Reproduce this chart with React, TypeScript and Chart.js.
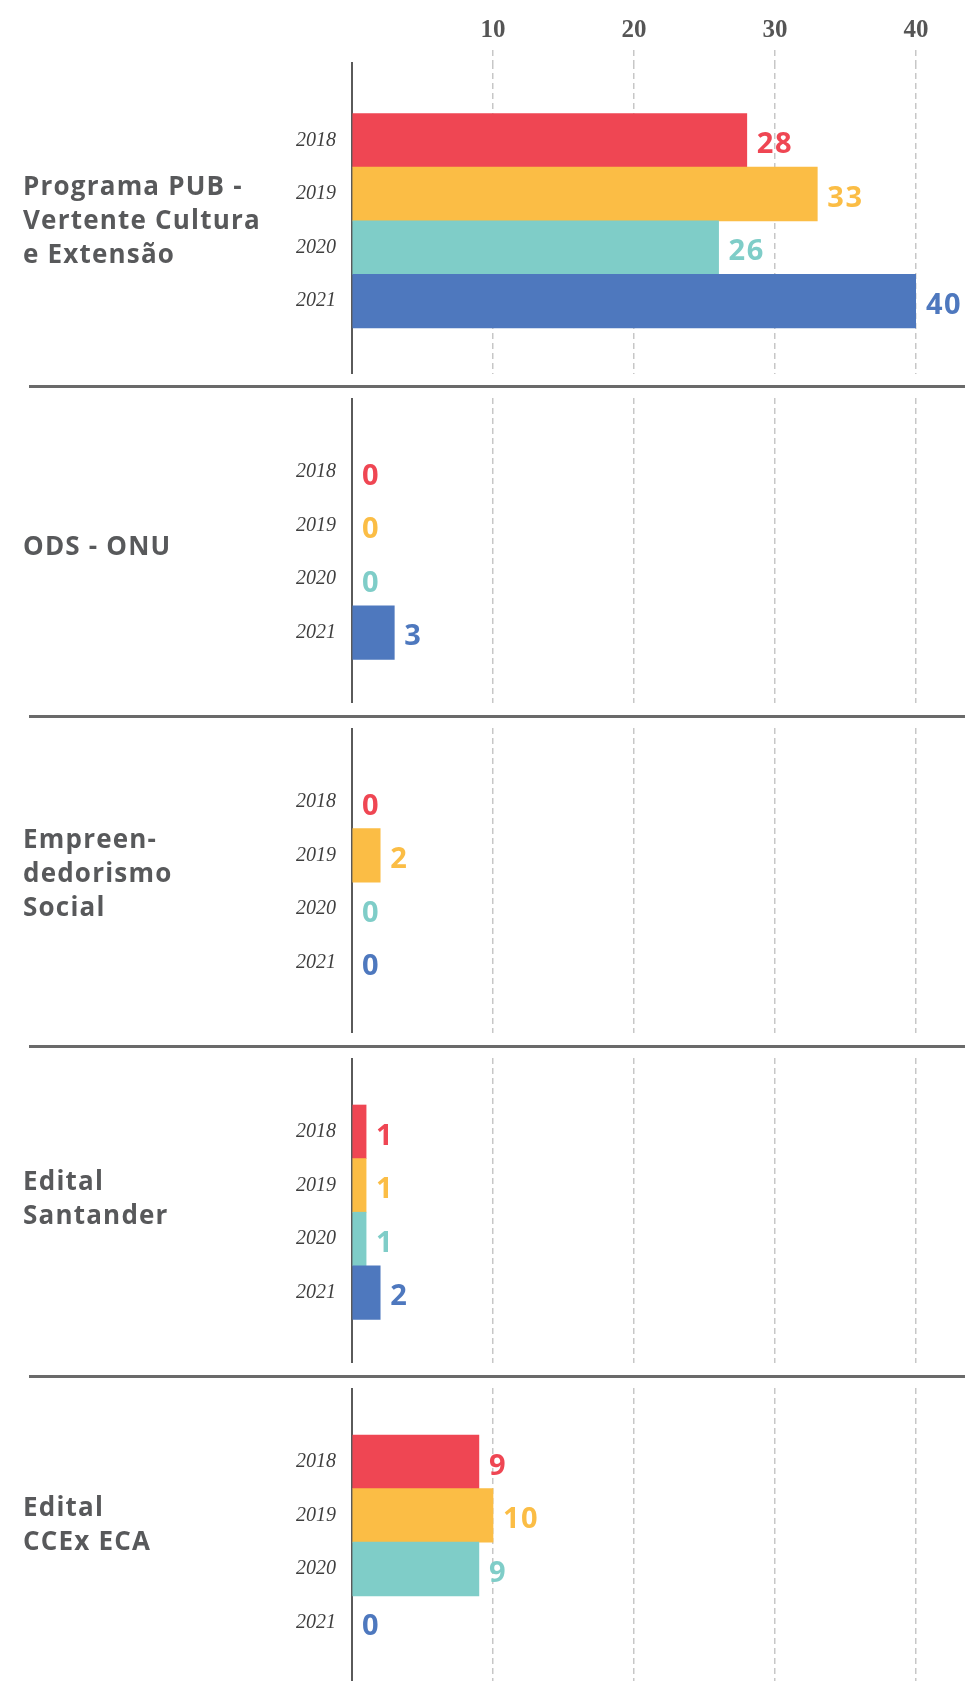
import React, { useEffect, useRef } from 'react';
import { Chart, registerables } from 'chart.js';

Chart.register(...registerables);

// ---------- data ----------
const years = ['2018', '2019', '2020', '2021'];
const groupLabels = [
  'Programa PUB -\nVertente Cultura\ne Extensão',
  'ODS - ONU',
  'Empreen-\ndedorismo\nSocial',
  'Edital\nSantander',
  'Edital\nCCEx ECA',
];
const pubValues = [28, 33, 26, 40];
const odsValues = [0, 0, 0, 3];
const empreendedorismoValues = [0, 2, 0, 0];
const santanderValues = [1, 1, 1, 2];
const ccexValues = [9, 10, 9, 0];
const xTickValues = [0, 10, 20, 30, 40];
const xTickLabels = ['', '10', '20', '30', '40'];
const yearColors = ['#EF4653', '#FBBD45', '#7FCDC8', '#4E78BE'];

const seriesList = [pubValues, odsValues, empreendedorismoValues, santanderValues, ccexValues];

// ---------- layout ----------
const PAGE_W = 967;
const PAGE_H = 1681;
const AXIS_X = 352;
const RIGHT_X = 916;
const ROW_H = 53.6;
const GRID_COLOR = 'rgba(0,0,0,0.22)';
const TEXT_GRAY = '#58595b';
const labelCapCenters = [186.5, 546.6, 839.3, 1181.3, 1507.2];
const separatorTops = [385, 715, 1045, 1375];

function sectionLayout(k: number) {
  if (k === 0) {
    return { canvasTop: 0, axisHeight: 63, areaBottom: 374, row0: 140.4 };
  }
  const S = 386 + 330 * (k - 1);
  return { canvasTop: S + 12, axisHeight: 0, areaBottom: S + 317, row0: S + 85.8 };
}

function SectionChart({ values, k }: { values: number[]; k: number }) {
  const ref = useRef<HTMLCanvasElement>(null);
  const lay = sectionLayout(k);
  const height = lay.areaBottom - lay.canvasTop;
  const showTicks = k === 0;

  useEffect(() => {
    const canvas = ref.current!;
    const areaTop = lay.axisHeight;
    const areaH = height - lay.axisHeight;
    const yMin = -(lay.row0 - lay.canvasTop - areaTop) / ROW_H;
    const yMax = yMin + areaH / ROW_H;
    const gridColor = (c: any) => (c.tick && c.tick.value === 0 ? 'rgba(0,0,0,0)' : GRID_COLOR);

    const valueLabels = {
      id: 'valueLabels',
      afterDraw(chart: any) {
        const ctx = chart.ctx;
        const meta = chart.getDatasetMeta(0);
        ctx.save();
        ctx.font = '700 29px "Open Sans", sans-serif';
        try {
          (ctx as any).letterSpacing = '1.5px';
        } catch (e) {
          /* ignore */
        }
        ctx.textAlign = 'left';
        ctx.textBaseline = 'middle';
        meta.data.forEach((el: any, i: number) => {
          ctx.fillStyle = yearColors[i];
          ctx.fillText(String(values[i]), el.x + 10, el.y + 4.5);
        });
        ctx.restore();
      },
    };

    const chart = new Chart(canvas, {
      type: 'bar',
      data: {
        datasets: [
          {
            data: values.map((v, i) => ({ x: v, y: i })),
            backgroundColor: yearColors,
            borderWidth: 0,
            categoryPercentage: 1,
            barPercentage: 1,
            inflateAmount: values.map((v) => (v === 0 ? 0 : 0.33)),
          },
        ],
      },
      options: {
        indexAxis: 'y',
        animation: false,
        responsive: false,
        maintainAspectRatio: false,
        events: [],
        layout: { padding: { left: 0, right: PAGE_W - RIGHT_X, top: 0, bottom: 0 } },
        plugins: { legend: { display: false }, tooltip: { enabled: false } },
        scales: {
          x: {
            type: 'linear',
            position: 'top',
            min: 0,
            max: 40,
            z: 1,
            afterFit: (s: any) => {
              s.height = lay.axisHeight;
              s.paddingLeft = 0;
              s.paddingRight = 0;
              s.paddingTop = 0;
              s.paddingBottom = 0;
            },
            afterBuildTicks: (s: any) => {
              s.ticks = xTickValues.map((v) => ({ value: v }));
            },
            ticks: {
              display: showTicks,
              padding: 4,
              color: '#555555',
              font: { family: "'Liberation Serif', serif", size: 25, weight: 'bold' },
              callback: (_v: any, i: number) => xTickLabels[i],
            },
            grid: {
              color: gridColor,
              tickColor: gridColor,
              lineWidth: 1.5,
              tickWidth: 1.5,
              drawTicks: showTicks,
              tickLength: 13,
              tickBorderDash: [6, 4],
            },
            border: { display: false, dash: [6, 4] },
          },
          y: {
            type: 'linear',
            min: yMin,
            max: yMax,
            reverse: true,
            offset: false,
            bounds: 'data',
            grace: 0,
            beginAtZero: false,
            z: 1,
            afterDataLimits: (s: any) => {
              s.min = yMin;
              s.max = yMax;
            },
            afterBuildTicks: (s: any) => {
              s.min = yMin;
              s.max = yMax;
              s.ticks = years.map((_y, i) => ({ value: i }));
            },
            afterFit: (s: any) => {
              s.width = AXIS_X;
              s.paddingTop = 0;
              s.paddingBottom = 0;
              s.paddingLeft = 0;
              s.paddingRight = 0;
            },
            ticks: {
              padding: 16,
              color: '#3f3f3f',
              font: { family: "'Liberation Serif', serif", size: 20, style: 'italic', weight: 'normal' },
              callback: (_v: any, i: number) => years[i],
            },
            grid: { display: false, drawTicks: false },
            border: { display: true, color: '#5a5a5a', width: 2 },
          },
        },
      },
      plugins: [valueLabels],
    } as any);
    return () => chart.destroy();
  }, []);

  return (
    <canvas
      ref={ref}
      width={PAGE_W}
      height={height}
      style={{ position: 'absolute', left: 0, top: lay.canvasTop, width: PAGE_W, height }}
    />
  );
}

export default function App() {
  useEffect(() => {
    document.body.style.margin = '0';
    document.documentElement.style.overflow = 'hidden';
  }, []);

  return (
    <div
      style={{
        position: 'relative',
        width: PAGE_W,
        height: PAGE_H,
        overflow: 'hidden',
        background: '#ffffff',
      }}
    >
      {seriesList.map((vals, k) => (
        <SectionChart key={k} values={vals} k={k} />
      ))}
      {separatorTops.map((t, i) => (
        <div
          key={'sep' + i}
          style={{ position: 'absolute', left: 29, width: 936, top: t, height: 3, background: '#6a6a6a' }}
        />
      ))}
      {groupLabels.map((txt, k) => (
        <div
          key={'lab' + k}
          style={{
            position: 'absolute',
            left: 23,
            top: labelCapCenters[k] - 18.5,
            whiteSpace: 'pre-line',
            fontFamily: "'Open Sans', sans-serif",
            fontWeight: 700,
            fontSize: 26,
            letterSpacing: '1.2px',
            lineHeight: '34px',
            color: TEXT_GRAY,
          }}
        >
          {txt}
        </div>
      ))}
    </div>
  );
}
